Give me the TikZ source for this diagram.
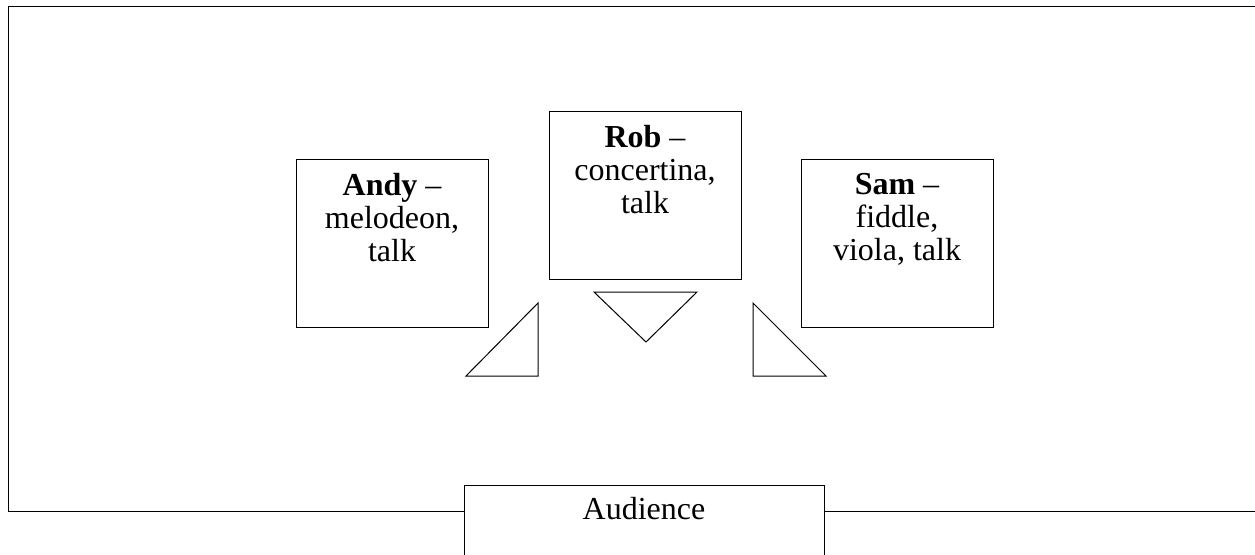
\documentclass[tikz,border=0pt]{standalone}
\usepackage{fontspec}
\setmainfont{Liberation Serif}
\begin{document}
\begin{tikzpicture}[x=0.5pt, y=-0.5pt, line width=0.5pt,
    playerStyle/.style={rectangle, draw, minimum width=96pt, minimum height=84pt, inner sep=0pt},
    nameStyle/.style={anchor=north, align=center, inner sep=0pt, font=\fontsize{16}{16.5}\selectfont},
    audienceStyle/.style={rectangle, draw, anchor=north, minimum width=180pt, minimum height=60pt, inner sep=0pt}]
    \clip (0, 0) rectangle (1255, 554);
    % players
    \node[playerStyle] (andy) at (392, 243) {};
    \node[playerStyle] (rob)  at (645, 195.5) {};
    \node[playerStyle] (sam)  at (897, 243) {};
    \node[nameStyle] (andy_T) at ([yshift=-7pt]andy.north) {\textbf{Andy} –\\melodeon,\\talk};
    \node[nameStyle] (rob_T)  at ([yshift=-7pt]rob.north)  {\textbf{Rob} –\\concertina,\\talk};
    \node[nameStyle] (sam_T)  at ([yshift=-7pt]sam.north)  {\textbf{Sam} –\\fiddle,\\viola, talk};
    % audience and stage
    \node[audienceStyle] (audience) at (644, 485) {};
    \node[nameStyle, anchor=base] (audience_T) at (644, 519) {Audience};
    \coordinate (stage_BL) at (8, 511);
    \draw (1260, 6) -- (8, 6) -- (stage_BL) -- (audience.west |- stage_BL);
    \draw (audience.east |- stage_BL) -- (1260, 511);
    % monitors
    \draw (466, 376) -- (538, 376) -- (538, 303) -- cycle;
    \draw (594, 292) -- (697, 292) -- (646, 342) -- cycle;
    \draw (753, 303) -- (753, 376) -- (826, 376) -- cycle;
\end{tikzpicture}
\end{document}
